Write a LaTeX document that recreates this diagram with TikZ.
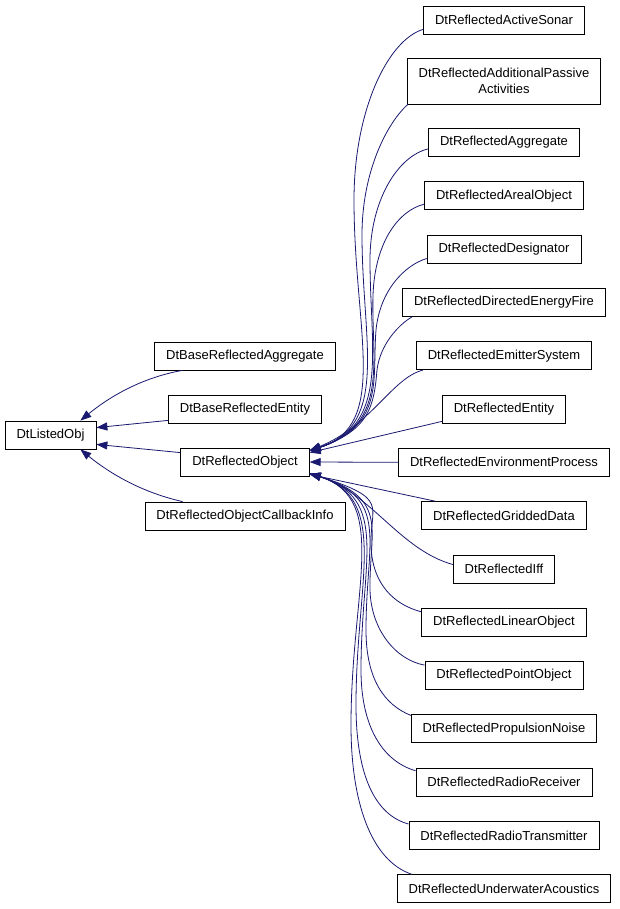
\documentclass[tikz,border=0pt]{standalone}
\usepackage{fontspec}
\setmainfont{Liberation Sans}
\usetikzlibrary{arrows.meta}
\definecolor{edgeblue}{HTML}{191970}
\begin{document}
\begin{tikzpicture}[x=1pt,y=-1pt,
  box/.style={draw=black, line width=0.8pt, fill=white, minimum height=28pt, inner xsep=11.5pt, inner ysep=2pt, font=\fontsize{13}{15.5}\selectfont, align=center},
  edge/.style={draw=edgeblue, line width=0.8pt, -{Triangle[length=11pt,width=8pt]}}]
\useasboundingbox (0,0) rectangle (619,909);
% left and middle
\node[box] (lo) at (50.5,435) {DtListedObj};
\node[box] (bra) at (245,356) {DtBaseReflectedAggregate};
\node[box] (bre) at (245,409) {DtBaseReflectedEntity};
\node[box] (obj) at (245,462) {DtReflectedObject};
\node[box] (cbi) at (245,516) {DtReflectedObjectCallbackInfo};
% right column
\node[box] (as) at (504,20) {DtReflectedActiveSonar};
\node[box, minimum height=46pt] (ap) at (504,81) {DtReflectedAdditionalPassive\\Activities};
\node[box] (ag) at (504,142.5) {DtReflectedAggregate};
\node[box] (ar) at (504,195.8) {DtReflectedArealObject};
\node[box] (ds) at (504,249.1) {DtReflectedDesignator};
\node[box] (de) at (504,302.4) {DtReflectedDirectedEnergyFire};
\node[box] (em) at (504,355.7) {DtReflectedEmitterSystem};
\node[box] (en) at (504,409) {DtReflectedEntity};
\node[box] (ep) at (504,462.3) {DtReflectedEnvironmentProcess};
\node[box] (gd) at (504,515.6) {DtReflectedGriddedData};
\node[box] (iff) at (504,568.9) {DtReflectedIff};
\node[box] (lin) at (504,622.2) {DtReflectedLinearObject};
\node[box] (po) at (504,675.5) {DtReflectedPointObject};
\node[box] (pn) at (504,728.8) {DtReflectedPropulsionNoise};
\node[box] (rr) at (504,782.1) {DtReflectedRadioReceiver};
\node[box] (rt) at (504,835.4) {DtReflectedRadioTransmitter};
\node[box] (ua) at (504,888.7) {DtReflectedUnderwaterAcoustics};
% targets
\coordinate (tu) at ([yshift=-3pt]obj.north east);
\coordinate (tl) at ([yshift=3pt]obj.south east);
% edges to DtListedObj
\draw[edge] ([xshift=28pt]bra.south west) .. controls (140,378) and (108,398) .. ([xshift=-16pt]lo.north east);
\draw[edge] ([yshift=3pt]bre.south west) -- ([yshift=-7pt]lo.north east);
\draw[edge] ([yshift=-5pt]obj.north west) -- ([yshift=5pt]lo.south east);
\draw[edge] ([xshift=38pt]cbi.north west) .. controls (140,492) and (108,472) .. ([xshift=-16pt]lo.south east);
% upper edges to DtReflectedObject
\draw[edge] ([yshift=5pt]as.south west) .. controls (388,40) and (354,110) .. (354,200) .. controls (354,330) and (390,425) .. (tu);
\draw[edge] ([xshift=1pt]ap.south west) .. controls (388,122) and (362,170) .. (362,235) .. controls (362,340) and (390,425) .. (tu);
\draw[edge] ([yshift=8pt]ag.south west) .. controls (398,156) and (370,200) .. (370,260) .. controls (370,350) and (390,425) .. (tu);
\draw[edge] ([yshift=6pt]ar.south west) .. controls (400,210) and (375,240) .. (373,295) .. controls (371,360) and (390,425) .. (tu);
\draw[edge] ([yshift=5pt]ds.south west) .. controls (405,265) and (380,290) .. (376,330) .. controls (372,380) and (385,425) .. (tu);
\draw[edge] ([xshift=10pt]de.south west) .. controls (398,325) and (380,345) .. (377,370) .. controls (374,405) and (370,430) .. (tu);
\draw[edge] ([xshift=7pt]em.south west) .. controls (392,378) and (372,425) .. (tu);
\draw[edge] ([yshift=2pt]en.south west) -- ([yshift=-5pt]obj.north east);
\draw[edge] (ep.west) -- (obj.east);
% lower edges
\draw[edge] ([xshift=14pt]gd.north west) -- ([yshift=2pt]obj.south east);
\draw[edge] ([yshift=-10pt]iff.north west) .. controls (400,550) and (370,492) .. (tl);
\draw[edge] ([yshift=-4pt]lin.north west) .. controls (395,605) and (372,585) .. (371,545) .. controls (370,505) and (390,499) .. (tl);
\draw[edge] ([yshift=-4pt]po.north west) .. controls (396,660) and (371,630) .. (370,590) .. controls (369,530) and (390,499) .. (tl);
\draw[edge] ([yshift=-1pt]pn.north west) .. controls (385,705) and (366,680) .. (366,630) .. controls (366,540) and (390,499) .. (tl);
\draw[edge] ([yshift=-3pt]rr.north west) .. controls (385,762) and (361,730) .. (361,670) .. controls (361,560) and (390,499) .. (tl);
\draw[edge] ([yshift=-3pt]rt.north west) .. controls (375,815) and (356,775) .. (356,705) .. controls (356,580) and (390,499) .. (tl);
\draw[edge] ([xshift=15pt]ua.north west) .. controls (370,860) and (351,800) .. (351,725) .. controls (351,590) and (390,499) .. (tl);
\end{tikzpicture}
\end{document}
